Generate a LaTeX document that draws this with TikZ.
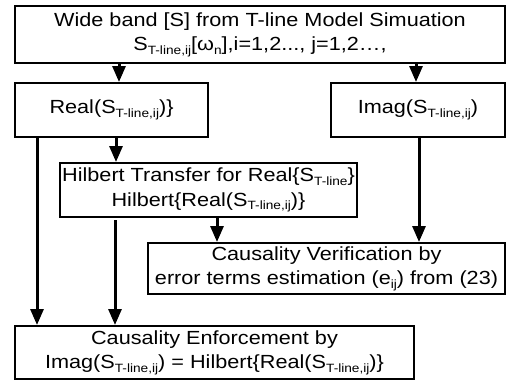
\documentclass[tikz,border=0pt]{standalone}
\usepackage{fontspec}
\setmainfont{Liberation Sans}[FakeStretch=1.14]
\usetikzlibrary{arrows.meta}
\newcommand{\sbs}[1]{\raisebox{-0.35ex}{\fontsize{12}{12}\selectfont #1}}
\tikzset{x=1pt, y=-1pt, % Work in pixel units, y pointing down
box/.style={ % Sets the properties for each block
draw,
line width=2pt,
anchor=north west,
align=center,
inner sep=0pt,
font=\fontsize{19}{24.5}\selectfont},
arr/.style={ % Sets the properties for each connector
draw,
line width=3pt,
-{Triangle[length=16pt,width=13pt]}}}
\begin{document}
\begin{tikzpicture}
\useasboundingbox (0,0) rectangle (506,384);
\node[box, minimum width=490pt, minimum height=57pt] (model) at (14,5) {Wide band [S] from T-line Model Simuation\\S\sbs{T-line,ij}[ω\sbs{n}],i=1,2..., j=1,2…,};
\node[box, minimum width=193pt, minimum height=54pt] (real) at (14,82) {Real(S\sbs{T-line,ij})\}};
\node[box, minimum width=174pt, minimum height=54pt] (imag) at (330,82) {Imag(S\sbs{T-line,ij})};
\node[box, minimum width=297pt, minimum height=54pt] (hilb) at (59,162) {Hilbert Transfer for Real\{S\sbs{T-line}\}\\Hilbert\{Real(S\sbs{T-line,ij})\}};
\node[box, minimum width=357pt, minimum height=51pt] (verif) at (147,242) {Causality Verification by\\error terms estimation (e\sbs{ij}) from (23)};
\node[box, minimum width=399pt, minimum height=53pt] (enf) at (14,325) {Causality Enforcement by\\Imag(S\sbs{T-line,ij}) = Hilbert\{Real(S\sbs{T-line,ij})\}};
\draw[arr] ([xshift=7.5pt]real.north |- model.south) -- ([xshift=7.5pt]real.north);
\draw[arr] ([xshift=-2pt]imag.north |- model.south) -- ([xshift=-2pt]imag.north);
\draw[arr] ([xshift=4.5pt]real.south) -- ([xshift=4.5pt]real.south |- hilb.north);
\draw[arr] ([xshift=23pt]real.south west) -- ([xshift=23pt]real.south west |- enf.north);
\draw[arr] ([xshift=56pt,yshift=-2pt]hilb.south west) -- ([xshift=56pt]hilb.south west |- enf.north);
\draw[arr] ([xshift=8.5pt]hilb.south) -- ([xshift=8.5pt]hilb.south |- verif.north);
\draw[arr] ([xshift=1pt]imag.south) -- ([xshift=1pt]imag.south |- verif.north);
\end{tikzpicture}
\end{document}
